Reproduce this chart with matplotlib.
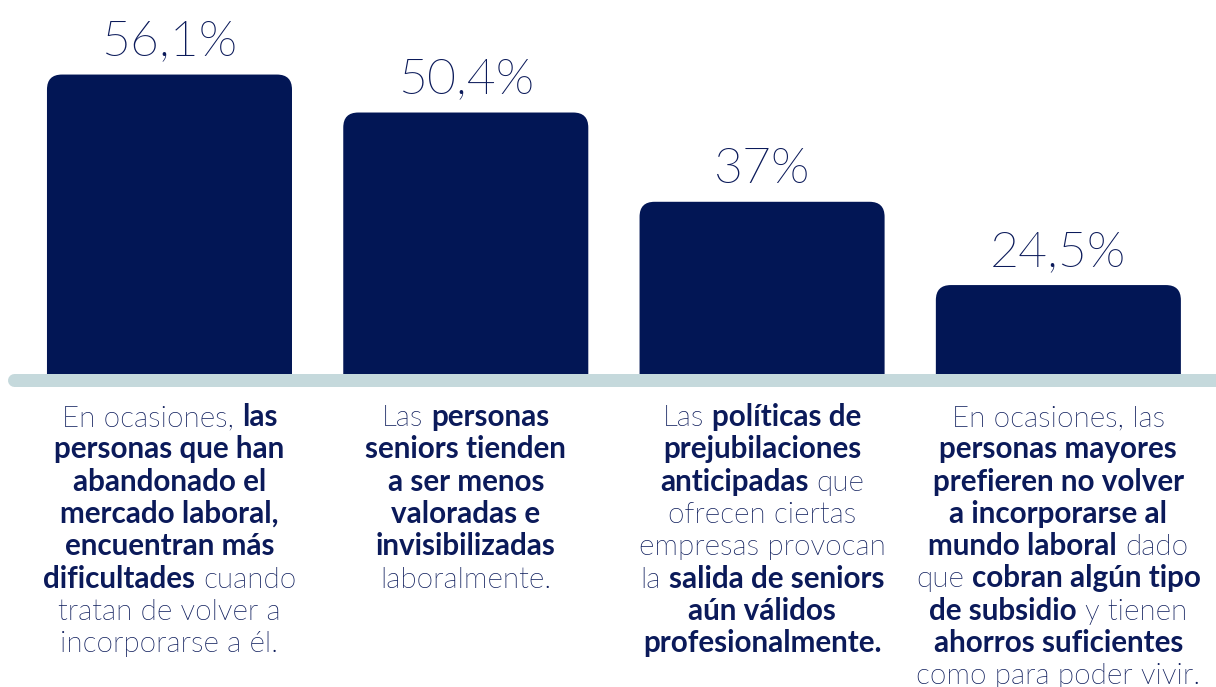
import os
import matplotlib
matplotlib.use("Agg")
import matplotlib.pyplot as plt
from matplotlib import font_manager
from matplotlib.font_manager import FontProperties
from matplotlib.patches import FancyBboxPatch
from matplotlib.lines import Line2D

# ---------------- data ----------------
values = [56.1, 50.4, 37, 24.5]
value_labels = ["56,1%", "50,4%", "37%", "24,5%"]

desc_1 = ["En ocasiones, **las**",
          "**personas que han**",
          "**abandonado el**",
          "**mercado laboral,**",
          "**encuentran más**",
          "**dificultades** cuando",
          "tratan de volver a",
          "incorporarse a él."]
desc_2 = ["Las **personas**",
          "**seniors tienden**",
          "**a ser menos**",
          "**valoradas e**",
          "**invisibilizadas**",
          "laboralmente."]
desc_3 = ["Las **políticas de**",
          "**prejubilaciones**",
          "**anticipadas** que",
          "ofrecen ciertas",
          "empresas provocan",
          "la **salida de seniors**",
          "**aún válidos**",
          "**profesionalmente.**"]
desc_4 = ["En ocasiones, las",
          "**personas mayores**",
          "**prefieren no volver**",
          "**a incorporarse al**",
          "**mundo laboral** dado",
          "que **cobran algún tipo**",
          "**de subsidio** y tienen",
          "**ahorros suficientes**",
          "como para poder vivir."]
descriptions = [desc_1, desc_2, desc_3, desc_4]

# ---------------- style ----------------
BAR = "#021655"
TXT = "#0b1a5a"
BASE = "#c5d9dc"
W, H = 1216, 687


def find_lato(tag):
    for f in font_manager.fontManager.ttflist:
        fn = os.path.basename(f.fname).lower()
        if "lato" in fn and tag in fn and "italic" not in fn:
            return f.fname
    return None


light_file = find_lato("light")
bold_file = find_lato("-bold.") or find_lato("bold")


def fp(bold, size):
    if bold:
        if bold_file and "black" not in bold_file.lower():
            return FontProperties(fname=bold_file, size=size)
        return FontProperties(family="Lato", weight="bold", size=size)
    if light_file:
        return FontProperties(fname=light_file, size=size)
    return FontProperties(family="Lato", weight="normal", size=size)


fig = plt.figure(figsize=(W / 100, H / 100), dpi=100)
fig.patch.set_facecolor("white")

base_px = 374
ax = fig.add_axes([0, (H - base_px) / H, 1, base_px / H])
ymin, ymax = 11.15, 67.29
xmin, xmax = -0.572, 3.532
ax.set_ylim(ymin, ymax)
ax.set_xlim(xmin, xmax)
ax.axis("off")

xs = list(range(len(values)))
bars = ax.bar(xs, values, width=0.827, color=BAR)

# rounded top corners
xu_per_px = (xmax - xmin) / W
yu_per_px = (ymax - ymin) / base_px
aspect = yu_per_px / xu_per_px
r = 15 * xu_per_px
for b in bars:
    b.set_visible(False)
    p = FancyBboxPatch((b.get_x(), 0), b.get_width(), b.get_height(),
                       boxstyle=f"round,pad=0,rounding_size={r}",
                       mutation_aspect=aspect, facecolor=BAR,
                       edgecolor="none", clip_on=True)
    ax.add_patch(p)
    p.set_clip_path(ax.patch)

for xi, v, lab in zip(xs, values, value_labels):
    ax.annotate(lab, (xi, v), xytext=(0, 13.7), textcoords="offset points",
                ha="center", va="baseline", fontproperties=fp(False, 36),
                color=TXT, annotation_clip=False)

# baseline strip
fig.add_artist(Line2D([13.5 / W, 1.05], [1 - 380 / H] * 2,
                      transform=fig.transFigure, lw=13 * 0.72, color=BASE,
                      solid_capstyle="round"))

# ---------------- descriptions with mixed weights ----------------
FS = 21.3
renderer = fig.canvas.get_renderer()


def measure(s, bold):
    t = fig.text(0, 0, s, fontproperties=fp(bold, FS))
    w = t.get_window_extent(renderer).width
    t.remove()
    return w


space_w = {False: measure("a a", False) - measure("aa", False),
           True: measure("a a", True) - measure("aa", True)}


def parse(line):
    parts = line.split("**")
    segs = []
    for i, p in enumerate(parts):
        if p == "":
            continue
        segs.append((p, i % 2 == 1))
    return segs


first_baseline = 426
line_h = 32.3
for xi, lines in zip(xs, descriptions):
    cx = ax.transData.transform((xi, 0))[0]
    for li, line in enumerate(lines):
        segs = parse(line)
        items = []
        total = 0
        for k, (s, bold) in enumerate(segs):
            st = s.strip()
            if s.startswith(" ") and k > 0:
                total += space_w[bold]
            w = measure(st, bold)
            items.append((st, bold, total))
            total += w
            if s.endswith(" ") and k < len(segs) - 1:
                total += space_w[bold]
        x0 = cx - total / 2
        yb = first_baseline + li * line_h
        for st, bold, off in items:
            fig.text((x0 + off) / W, 1 - yb / H, st, fontproperties=fp(bold, FS),
                     color=TXT, ha="left", va="baseline")

fig.savefig("out.png", dpi=100, facecolor="white")
